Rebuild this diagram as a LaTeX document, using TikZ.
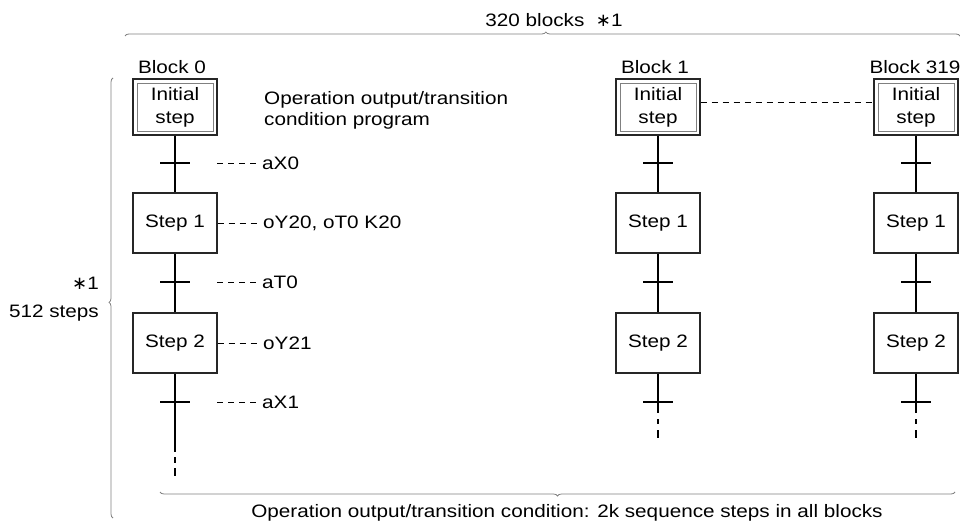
\documentclass[tikz,border=0pt]{standalone}
\usepackage{fontspec}
\setmainfont{Liberation Sans}[FakeStretch=1.15]
\newfontfamily\djsym{DejaVu Sans}
\newcommand{\myast}{{\djsym ∗}}
\usetikzlibrary{decorations.pathreplacing,calc}
\begin{document}
\begin{tikzpicture}[x=1pt,y=-1pt,
  every node/.style={font=\fontsize{18}{21}\selectfont},
  stepbox/.style={draw=black!85, line width=1.3pt, minimum width=84pt, minimum height=60pt, inner sep=0pt},
  initbox/.style={stepbox, minimum height=56pt, align=center, font=\fontsize{18}{23}\selectfont},
  vline/.style={line width=1.8pt, black},
  annot/.style={line width=0.8pt, dash pattern=on 6pt off 5pt},
  lbl/.style={anchor=west, inner sep=2pt},
  bracel/.style={draw=black!50, line width=0.8pt, decorate, decoration={brace, amplitude=4pt}}
]
\useasboundingbox (0,0) rectangle (960,526);

% columns
\foreach \n/\cx/\ye/\da/\db/\dc/\dd in {0/175/452/457/463/468/476, 1/658/413/419/424/430/438, 2/916/413/419/424/430/438}{
  \node[initbox] (i\n) at (\cx,107) {Initial\\step};
  \draw[black!50, line width=0.6pt] ($(i\n.north west)+(4.5,4.5)$) rectangle ($(i\n.south east)+(-4.5,-4.5)$);
  \node[stepbox] (sa\n) at (\cx,223) {Step 1};
  \node[stepbox] (sb\n) at (\cx,343) {Step 2};
  \coordinate (e\n) at (\cx,\ye);
  \draw[vline] (i\n) -- (sa\n);
  \draw[vline] (sa\n) -- (sb\n);
  \draw[vline] (sb\n) -- (e\n);
  \draw[vline] (\cx-15,163) -- (\cx+15,163);
  \draw[vline] (\cx-15,282) -- (\cx+15,282);
  \draw[vline] (\cx-15,402) -- (\cx+15,402);
  \draw[vline] (\cx,\da) -- (\cx,\db);
  \draw[vline] (\cx,\dc) -- (\cx,\dd);
}

\node[anchor=south, inner sep=0pt] (b0) at (172,74) {Block 0};
\node[anchor=south, inner sep=0pt] (b1) at (655,74) {Block 1};
\node[anchor=south, inner sep=0pt] (b2) at (915,74) {Block 319};

% dashed between initial steps
\draw[annot] ([yshift=5pt]i1.east) -- ([yshift=5pt]i2.west);

% annotations for block 0
\node[anchor=west, align=left, inner sep=2pt, font=\fontsize{18}{21}\selectfont] (prog) at (262,110) {Operation output/transition\\condition program};
\coordinate (d1) at (217,163);
\coordinate (d2) at (217,282);
\coordinate (d3) at (217,402);
\node[lbl] (l1) at (260,163) {aX0};
\node[lbl] (l2) at (261,223) {oY20, oT0 K20};
\node[lbl] (l3) at (260,282) {aT0};
\node[lbl] (l4) at (261,343) {oY21};
\node[lbl] (l5) at (260,402) {aX1};
\draw[annot] (d1) -- (l1.west);
\draw[annot] (sa0.east) -- (l2.west);
\draw[annot] (d2) -- (l3.west);
\draw[annot] (sb0.east) -- (l4.west);
\draw[annot] (d3) -- (l5.west);

% braces
\coordinate (tb1) at (125,36);
\coordinate (tb2) at (960,36);
\draw[bracel, decoration={aspect=0.504}] (tb1) -- (tb2);
\node[inner sep=0pt] (top) at (554,20) {320 blocks\ \ \myast1};

\coordinate (lb1) at (113,518);
\coordinate (lb2) at (113,78);
\draw[bracel, decoration={aspect=0.49}] (lb1) -- (lb2);
\node[anchor=east, align=right, inner sep=0pt, font=\fontsize{18}{28}\selectfont] (lt) at (99,299) {\myast1\\512 steps};

\coordinate (bb1) at (955,492);
\coordinate (bb2) at (160,492);
\draw[bracel] (bb1) -- (bb2);
\node[inner sep=0pt] (bt) at (567,513) {Operation output/transition condition: 2k sequence steps in all blocks};
\end{tikzpicture}
\end{document}
